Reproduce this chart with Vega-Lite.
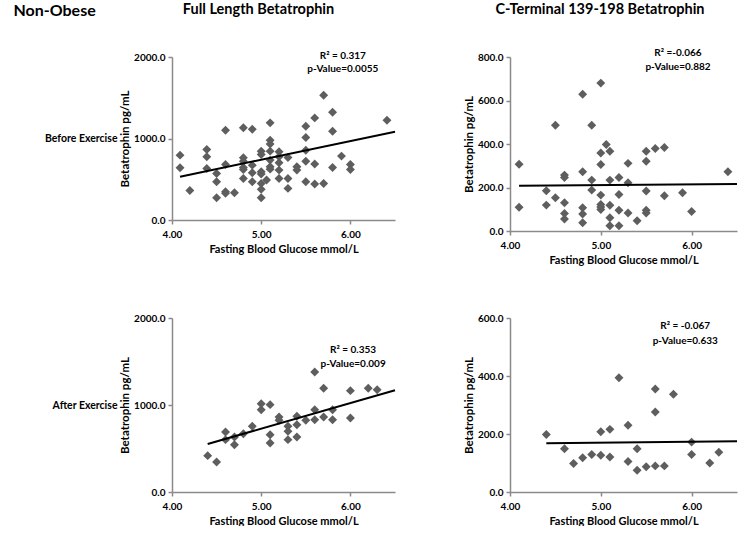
{
  "$schema": "https://vega.github.io/schema/vega-lite/v6.json",
  "background": "white",
  "padding": {"left": 13, "top": 1, "right": 0, "bottom": 0},
  "config": {
    "view": {"stroke": null},
    "font": "Lato",
    "axis": {
      "grid": false,
      "domainColor": "#8a8a8a",
      "domainWidth": 1.5,
      "tickColor": "#8a8a8a",
      "tickWidth": 1.5,
      "tickSize": 4,
      "labelFont": "Lato",
      "labelFontSize": 10,
      "labelFontWeight": "bold",
      "labelColor": "#000000",
      "labelFlush": false,
      "titleFont": "Lato",
      "titleFontSize": 11,
      "titleFontWeight": "bold",
      "titleColor": "#000000"
    },
    "axisX": {"labelPadding": 5, "titlePadding": 4},
    "axisY": {"labelPadding": 3, "titlePadding": 3, "titleFontSize": 11.5},
    "title": {"font": "Lato", "fontSize": 14.5, "fontWeight": "bold", "color": "#000000"}
  },
  "title": {"text": "Non-Obese", "anchor": "start", "fontSize": 16, "dx": -31, "offset": -17},
  "datasets": {
    "points": [
      {"panel": "full_before", "glucose": 4.09, "betatrophin": 796},
      {"panel": "full_before", "glucose": 4.09, "betatrophin": 641},
      {"panel": "full_before", "glucose": 4.2, "betatrophin": 363},
      {"panel": "full_before", "glucose": 4.39, "betatrophin": 865},
      {"panel": "full_before", "glucose": 4.39, "betatrophin": 776},
      {"panel": "full_before", "glucose": 4.39, "betatrophin": 633},
      {"panel": "full_before", "glucose": 4.5, "betatrophin": 571},
      {"panel": "full_before", "glucose": 4.5, "betatrophin": 469},
      {"panel": "full_before", "glucose": 4.5, "betatrophin": 273},
      {"panel": "full_before", "glucose": 4.6, "betatrophin": 1102},
      {"panel": "full_before", "glucose": 4.6, "betatrophin": 682},
      {"panel": "full_before", "glucose": 4.6, "betatrophin": 347},
      {"panel": "full_before", "glucose": 4.6, "betatrophin": 327},
      {"panel": "full_before", "glucose": 4.7, "betatrophin": 335},
      {"panel": "full_before", "glucose": 4.8, "betatrophin": 1131},
      {"panel": "full_before", "glucose": 4.8, "betatrophin": 763},
      {"panel": "full_before", "glucose": 4.8, "betatrophin": 722},
      {"panel": "full_before", "glucose": 4.8, "betatrophin": 645},
      {"panel": "full_before", "glucose": 4.8, "betatrophin": 620},
      {"panel": "full_before", "glucose": 4.8, "betatrophin": 510},
      {"panel": "full_before", "glucose": 4.9, "betatrophin": 1114},
      {"panel": "full_before", "glucose": 4.9, "betatrophin": 673},
      {"panel": "full_before", "glucose": 4.9, "betatrophin": 580},
      {"panel": "full_before", "glucose": 4.9, "betatrophin": 469},
      {"panel": "full_before", "glucose": 5.0, "betatrophin": 845},
      {"panel": "full_before", "glucose": 5.0, "betatrophin": 804},
      {"panel": "full_before", "glucose": 5.0, "betatrophin": 592},
      {"panel": "full_before", "glucose": 5.0, "betatrophin": 563},
      {"panel": "full_before", "glucose": 5.0, "betatrophin": 449},
      {"panel": "full_before", "glucose": 5.0, "betatrophin": 376},
      {"panel": "full_before", "glucose": 5.0, "betatrophin": 273},
      {"panel": "full_before", "glucose": 5.06, "betatrophin": 490},
      {"panel": "full_before", "glucose": 5.1, "betatrophin": 1192},
      {"panel": "full_before", "glucose": 5.1, "betatrophin": 980},
      {"panel": "full_before", "glucose": 5.1, "betatrophin": 931},
      {"panel": "full_before", "glucose": 5.1, "betatrophin": 845},
      {"panel": "full_before", "glucose": 5.1, "betatrophin": 735},
      {"panel": "full_before", "glucose": 5.1, "betatrophin": 653},
      {"panel": "full_before", "glucose": 5.1, "betatrophin": 624},
      {"panel": "full_before", "glucose": 5.2, "betatrophin": 837},
      {"panel": "full_before", "glucose": 5.2, "betatrophin": 776},
      {"panel": "full_before", "glucose": 5.2, "betatrophin": 702},
      {"panel": "full_before", "glucose": 5.2, "betatrophin": 612},
      {"panel": "full_before", "glucose": 5.2, "betatrophin": 510},
      {"panel": "full_before", "glucose": 5.3, "betatrophin": 767},
      {"panel": "full_before", "glucose": 5.3, "betatrophin": 510},
      {"panel": "full_before", "glucose": 5.3, "betatrophin": 388},
      {"panel": "full_before", "glucose": 5.4, "betatrophin": 653},
      {"panel": "full_before", "glucose": 5.4, "betatrophin": 612},
      {"panel": "full_before", "glucose": 5.5, "betatrophin": 1151},
      {"panel": "full_before", "glucose": 5.5, "betatrophin": 1012},
      {"panel": "full_before", "glucose": 5.5, "betatrophin": 857},
      {"panel": "full_before", "glucose": 5.5, "betatrophin": 722},
      {"panel": "full_before", "glucose": 5.5, "betatrophin": 469},
      {"panel": "full_before", "glucose": 5.6, "betatrophin": 1253},
      {"panel": "full_before", "glucose": 5.6, "betatrophin": 686},
      {"panel": "full_before", "glucose": 5.6, "betatrophin": 441},
      {"panel": "full_before", "glucose": 5.7, "betatrophin": 1531},
      {"panel": "full_before", "glucose": 5.7, "betatrophin": 449},
      {"panel": "full_before", "glucose": 5.8, "betatrophin": 1322},
      {"panel": "full_before", "glucose": 5.8, "betatrophin": 1090},
      {"panel": "full_before", "glucose": 5.8, "betatrophin": 645},
      {"panel": "full_before", "glucose": 5.9, "betatrophin": 784},
      {"panel": "full_before", "glucose": 6.0, "betatrophin": 682},
      {"panel": "full_before", "glucose": 6.0, "betatrophin": 620},
      {"panel": "full_before", "glucose": 6.41, "betatrophin": 1224},

      {"panel": "cterm_before", "glucose": 4.1, "betatrophin": 307},
      {"panel": "cterm_before", "glucose": 4.1, "betatrophin": 109},
      {"panel": "cterm_before", "glucose": 4.4, "betatrophin": 185},
      {"panel": "cterm_before", "glucose": 4.4, "betatrophin": 119},
      {"panel": "cterm_before", "glucose": 4.5, "betatrophin": 486},
      {"panel": "cterm_before", "glucose": 4.5, "betatrophin": 153},
      {"panel": "cterm_before", "glucose": 4.6, "betatrophin": 257},
      {"panel": "cterm_before", "glucose": 4.6, "betatrophin": 246},
      {"panel": "cterm_before", "glucose": 4.6, "betatrophin": 130},
      {"panel": "cterm_before", "glucose": 4.6, "betatrophin": 81},
      {"panel": "cterm_before", "glucose": 4.6, "betatrophin": 55},
      {"panel": "cterm_before", "glucose": 4.8, "betatrophin": 629},
      {"panel": "cterm_before", "glucose": 4.8, "betatrophin": 272},
      {"panel": "cterm_before", "glucose": 4.8, "betatrophin": 107},
      {"panel": "cterm_before", "glucose": 4.8, "betatrophin": 78},
      {"panel": "cterm_before", "glucose": 4.8, "betatrophin": 38},
      {"panel": "cterm_before", "glucose": 4.9, "betatrophin": 486},
      {"panel": "cterm_before", "glucose": 4.9, "betatrophin": 234},
      {"panel": "cterm_before", "glucose": 4.9, "betatrophin": 188},
      {"panel": "cterm_before", "glucose": 5.0, "betatrophin": 680},
      {"panel": "cterm_before", "glucose": 5.0, "betatrophin": 359},
      {"panel": "cterm_before", "glucose": 5.0, "betatrophin": 306},
      {"panel": "cterm_before", "glucose": 5.0, "betatrophin": 165},
      {"panel": "cterm_before", "glucose": 5.0, "betatrophin": 122},
      {"panel": "cterm_before", "glucose": 5.0, "betatrophin": 110},
      {"panel": "cterm_before", "glucose": 5.0, "betatrophin": 99},
      {"panel": "cterm_before", "glucose": 5.06, "betatrophin": 398},
      {"panel": "cterm_before", "glucose": 5.1, "betatrophin": 367},
      {"panel": "cterm_before", "glucose": 5.1, "betatrophin": 234},
      {"panel": "cterm_before", "glucose": 5.1, "betatrophin": 118},
      {"panel": "cterm_before", "glucose": 5.1, "betatrophin": 61},
      {"panel": "cterm_before", "glucose": 5.1, "betatrophin": 24},
      {"panel": "cterm_before", "glucose": 5.2, "betatrophin": 246},
      {"panel": "cterm_before", "glucose": 5.2, "betatrophin": 168},
      {"panel": "cterm_before", "glucose": 5.2, "betatrophin": 95},
      {"panel": "cterm_before", "glucose": 5.2, "betatrophin": 24},
      {"panel": "cterm_before", "glucose": 5.3, "betatrophin": 311},
      {"panel": "cterm_before", "glucose": 5.3, "betatrophin": 222},
      {"panel": "cterm_before", "glucose": 5.3, "betatrophin": 83},
      {"panel": "cterm_before", "glucose": 5.4, "betatrophin": 47},
      {"panel": "cterm_before", "glucose": 5.5, "betatrophin": 367},
      {"panel": "cterm_before", "glucose": 5.5, "betatrophin": 321},
      {"panel": "cterm_before", "glucose": 5.5, "betatrophin": 184},
      {"panel": "cterm_before", "glucose": 5.5, "betatrophin": 95},
      {"panel": "cterm_before", "glucose": 5.5, "betatrophin": 83},
      {"panel": "cterm_before", "glucose": 5.6, "betatrophin": 379},
      {"panel": "cterm_before", "glucose": 5.7, "betatrophin": 384},
      {"panel": "cterm_before", "glucose": 5.7, "betatrophin": 162},
      {"panel": "cterm_before", "glucose": 5.9, "betatrophin": 176},
      {"panel": "cterm_before", "glucose": 6.0, "betatrophin": 90},
      {"panel": "cterm_before", "glucose": 6.4, "betatrophin": 272},

      {"panel": "full_after", "glucose": 4.4, "betatrophin": 418},
      {"panel": "full_after", "glucose": 4.5, "betatrophin": 345},
      {"panel": "full_after", "glucose": 4.6, "betatrophin": 690},
      {"panel": "full_after", "glucose": 4.6, "betatrophin": 602},
      {"panel": "full_after", "glucose": 4.7, "betatrophin": 632},
      {"panel": "full_after", "glucose": 4.7, "betatrophin": 544},
      {"panel": "full_after", "glucose": 4.8, "betatrophin": 670},
      {"panel": "full_after", "glucose": 4.9, "betatrophin": 755},
      {"panel": "full_after", "glucose": 5.0, "betatrophin": 1015},
      {"panel": "full_after", "glucose": 5.0, "betatrophin": 946},
      {"panel": "full_after", "glucose": 5.1, "betatrophin": 1004},
      {"panel": "full_after", "glucose": 5.1, "betatrophin": 659},
      {"panel": "full_after", "glucose": 5.1, "betatrophin": 563},
      {"panel": "full_after", "glucose": 5.2, "betatrophin": 862},
      {"panel": "full_after", "glucose": 5.2, "betatrophin": 824},
      {"panel": "full_after", "glucose": 5.3, "betatrophin": 755},
      {"panel": "full_after", "glucose": 5.3, "betatrophin": 697},
      {"panel": "full_after", "glucose": 5.3, "betatrophin": 602},
      {"panel": "full_after", "glucose": 5.4, "betatrophin": 870},
      {"panel": "full_after", "glucose": 5.4, "betatrophin": 774},
      {"panel": "full_after", "glucose": 5.4, "betatrophin": 632},
      {"panel": "full_after", "glucose": 5.5, "betatrophin": 824},
      {"panel": "full_after", "glucose": 5.6, "betatrophin": 1379},
      {"panel": "full_after", "glucose": 5.6, "betatrophin": 946},
      {"panel": "full_after", "glucose": 5.6, "betatrophin": 831},
      {"panel": "full_after", "glucose": 5.7, "betatrophin": 1192},
      {"panel": "full_after", "glucose": 5.7, "betatrophin": 862},
      {"panel": "full_after", "glucose": 5.8, "betatrophin": 946},
      {"panel": "full_after", "glucose": 5.8, "betatrophin": 831},
      {"panel": "full_after", "glucose": 6.0, "betatrophin": 1165},
      {"panel": "full_after", "glucose": 6.0, "betatrophin": 851},
      {"panel": "full_after", "glucose": 6.2, "betatrophin": 1192},
      {"panel": "full_after", "glucose": 6.3, "betatrophin": 1176},

      {"panel": "cterm_after", "glucose": 4.4, "betatrophin": 198},
      {"panel": "cterm_after", "glucose": 4.6, "betatrophin": 149},
      {"panel": "cterm_after", "glucose": 4.7, "betatrophin": 98},
      {"panel": "cterm_after", "glucose": 4.8, "betatrophin": 118},
      {"panel": "cterm_after", "glucose": 4.9, "betatrophin": 129},
      {"panel": "cterm_after", "glucose": 5.0, "betatrophin": 208},
      {"panel": "cterm_after", "glucose": 5.0, "betatrophin": 127},
      {"panel": "cterm_after", "glucose": 5.1, "betatrophin": 216},
      {"panel": "cterm_after", "glucose": 5.1, "betatrophin": 121},
      {"panel": "cterm_after", "glucose": 5.2, "betatrophin": 394},
      {"panel": "cterm_after", "glucose": 5.3, "betatrophin": 230},
      {"panel": "cterm_after", "glucose": 5.3, "betatrophin": 105},
      {"panel": "cterm_after", "glucose": 5.4, "betatrophin": 149},
      {"panel": "cterm_after", "glucose": 5.4, "betatrophin": 75},
      {"panel": "cterm_after", "glucose": 5.5, "betatrophin": 87},
      {"panel": "cterm_after", "glucose": 5.6, "betatrophin": 355},
      {"panel": "cterm_after", "glucose": 5.6, "betatrophin": 276},
      {"panel": "cterm_after", "glucose": 5.6, "betatrophin": 90},
      {"panel": "cterm_after", "glucose": 5.7, "betatrophin": 90},
      {"panel": "cterm_after", "glucose": 5.8, "betatrophin": 337},
      {"panel": "cterm_after", "glucose": 6.0, "betatrophin": 172},
      {"panel": "cterm_after", "glucose": 6.0, "betatrophin": 129},
      {"panel": "cterm_after", "glucose": 6.2, "betatrophin": 100},
      {"panel": "cterm_after", "glucose": 6.3, "betatrophin": 137}
    ],
    "fits": [
      {"panel": "full_before", "glucose": 4.09, "betatrophin": 531},
      {"panel": "full_before", "glucose": 6.5, "betatrophin": 1082},
      {"panel": "cterm_before", "glucose": 4.1, "betatrophin": 208},
      {"panel": "cterm_before", "glucose": 6.5, "betatrophin": 216},
      {"panel": "full_after", "glucose": 4.4, "betatrophin": 552},
      {"panel": "full_after", "glucose": 6.5, "betatrophin": 1169},
      {"panel": "cterm_after", "glucose": 4.4, "betatrophin": 168},
      {"panel": "cterm_after", "glucose": 6.5, "betatrophin": 175}
    ],
    "stats": [
      {"panel": "full_before", "glucose": 5.915, "betatrophin": 2018, "label": "R² = 0.317"},
      {"panel": "full_before", "glucose": 5.915, "betatrophin": 1847, "label": "p-Value=0.0055"},
      {"panel": "cterm_before", "glucose": 5.85, "betatrophin": 817, "label": "R² =-0.066"},
      {"panel": "cterm_before", "glucose": 5.85, "betatrophin": 753, "label": "p-Value=0.882"},
      {"panel": "full_after", "glucose": 6.03, "betatrophin": 1636, "label": "R² = 0.353"},
      {"panel": "full_after", "glucose": 6.03, "betatrophin": 1475, "label": "p-Value=0.009"},
      {"panel": "cterm_after", "glucose": 5.93, "betatrophin": 573, "label": "R² = -0.067"},
      {"panel": "cterm_after", "glucose": 5.93, "betatrophin": 521, "label": "p-Value=0.633"}
    ]
  },
  "spacing": 48,
  "vconcat": [
    {
      "spacing": 64,
      "hconcat": [
        {
          "width": 223,
          "height": 163,
          "title": {"text": "Full Length Betatrophin", "frame": "group", "dx": -25, "offset": 33},
          "layer": [
            {
              "layer": [
                {
                  "data": {"name": "points"},
                  "transform": [{"filter": "datum.panel === 'full_before'"}],
                  "mark": {"type": "point", "shape": "diamond", "filled": true, "size": 80, "color": "#5e5e5e", "opacity": 1},
                  "encoding": {
                    "x": {"field": "glucose", "type": "quantitative", "scale": {"domain": [4, 6.5], "nice": false, "zero": false}, "axis": {"values": [4, 5, 6], "format": ".2f", "title": "Fasting Blood Glucose mmol/L"}},
                    "y": {"field": "betatrophin", "type": "quantitative", "scale": {"domain": [0, 2000], "nice": false}, "axis": {"values": [0, 1000, 2000], "format": ".1f", "title": "Betatrophin pg/mL"}}
                  }
                },
                {
                  "data": {"name": "fits"},
                  "transform": [{"filter": "datum.panel === 'full_before'"}],
                  "mark": {"type": "line", "color": "#000000", "strokeWidth": 2},
                  "encoding": {
                    "x": {"field": "glucose", "type": "quantitative", "scale": {"domain": [4, 6.5], "nice": false, "zero": false}},
                    "y": {"field": "betatrophin", "type": "quantitative", "scale": {"domain": [0, 2000], "nice": false}}
                  }
                },
                {
                  "data": {"name": "stats"},
                  "transform": [{"filter": "datum.panel === 'full_before'"}],
                  "mark": {"type": "text", "font": "Lato", "fontSize": 10, "fontWeight": "bold", "color": "#000000", "align": "center", "baseline": "middle"},
                  "encoding": {
                    "x": {"field": "glucose", "type": "quantitative", "scale": {"domain": [4, 6.5], "nice": false, "zero": false}},
                    "y": {"field": "betatrophin", "type": "quantitative", "scale": {"domain": [0, 2000], "nice": false}},
                    "text": {"field": "label", "type": "nominal"}
                  }
                }
              ]
            },
            {
              "data": {"name": "stats"},
              "transform": [{"filter": "datum.panel === 'full_before'"}],
              "mark": {"type": "point", "opacity": 0},
              "encoding": {
                "y": {"field": "label", "type": "nominal", "axis": {"orient": "left", "title": "Before Exercise", "labels": false, "ticks": false, "domain": false, "titleAngle": 0, "titleAlign": "right", "titleBaseline": "middle", "titlePadding": 55, "titleFontSize": 10.5, "titleFontWeight": "bold"}}
              }
            }
          ],
          "resolve": {"scale": {"y": "independent"}, "axis": {"y": "independent"}}
        },
        {
          "width": 227,
          "height": 174,
          "title": {"text": "C-Terminal 139-198 Betatrophin", "frame": "group", "dx": -23.5, "offset": 31},
          "layer": [
            {
              "data": {"name": "points"},
              "transform": [{"filter": "datum.panel === 'cterm_before'"}],
              "mark": {"type": "point", "shape": "diamond", "filled": true, "size": 80, "color": "#5e5e5e", "opacity": 1},
              "encoding": {
                "x": {"field": "glucose", "type": "quantitative", "scale": {"domain": [4, 6.5], "nice": false, "zero": false}, "axis": {"values": [4, 5, 6], "format": ".2f", "title": "Fasting Blood Glucose mmol/L"}},
                "y": {"field": "betatrophin", "type": "quantitative", "scale": {"domain": [0, 800], "nice": false}, "axis": {"values": [0, 200, 400, 600, 800], "format": ".1f", "title": "Betatrophin pg/mL"}}
              }
            },
            {
              "data": {"name": "fits"},
              "transform": [{"filter": "datum.panel === 'cterm_before'"}],
              "mark": {"type": "line", "color": "#000000", "strokeWidth": 2},
              "encoding": {
                "x": {"field": "glucose", "type": "quantitative", "scale": {"domain": [4, 6.5], "nice": false, "zero": false}},
                "y": {"field": "betatrophin", "type": "quantitative", "scale": {"domain": [0, 800], "nice": false}}
              }
            },
            {
              "data": {"name": "stats"},
              "transform": [{"filter": "datum.panel === 'cterm_before'"}],
              "mark": {"type": "text", "font": "Lato", "fontSize": 10, "fontWeight": "bold", "color": "#000000", "align": "center", "baseline": "middle"},
              "encoding": {
                "x": {"field": "glucose", "type": "quantitative", "scale": {"domain": [4, 6.5], "nice": false, "zero": false}},
                "y": {"field": "betatrophin", "type": "quantitative", "scale": {"domain": [0, 800], "nice": false}},
                "text": {"field": "label", "type": "nominal"}
              }
            }
          ]
        }
      ]
    },
    {
      "spacing": 64,
      "hconcat": [
        {
          "width": 223,
          "height": 174,
          "layer": [
            {
              "layer": [
                {
                  "data": {"name": "points"},
                  "transform": [{"filter": "datum.panel === 'full_after'"}],
                  "mark": {"type": "point", "shape": "diamond", "filled": true, "size": 80, "color": "#5e5e5e", "opacity": 1},
                  "encoding": {
                    "x": {"field": "glucose", "type": "quantitative", "scale": {"domain": [4, 6.5], "nice": false, "zero": false}, "axis": {"values": [4, 5, 6], "format": ".2f", "title": "Fasting Blood Glucose mmol/L"}},
                    "y": {"field": "betatrophin", "type": "quantitative", "scale": {"domain": [0, 2000], "nice": false}, "axis": {"values": [0, 1000, 2000], "format": ".1f", "title": "Betatrophin pg/mL"}}
                  }
                },
                {
                  "data": {"name": "fits"},
                  "transform": [{"filter": "datum.panel === 'full_after'"}],
                  "mark": {"type": "line", "color": "#000000", "strokeWidth": 2},
                  "encoding": {
                    "x": {"field": "glucose", "type": "quantitative", "scale": {"domain": [4, 6.5], "nice": false, "zero": false}},
                    "y": {"field": "betatrophin", "type": "quantitative", "scale": {"domain": [0, 2000], "nice": false}}
                  }
                },
                {
                  "data": {"name": "stats"},
                  "transform": [{"filter": "datum.panel === 'full_after'"}],
                  "mark": {"type": "text", "font": "Lato", "fontSize": 10, "fontWeight": "bold", "color": "#000000", "align": "center", "baseline": "middle"},
                  "encoding": {
                    "x": {"field": "glucose", "type": "quantitative", "scale": {"domain": [4, 6.5], "nice": false, "zero": false}},
                    "y": {"field": "betatrophin", "type": "quantitative", "scale": {"domain": [0, 2000], "nice": false}},
                    "text": {"field": "label", "type": "nominal"}
                  }
                }
              ]
            },
            {
              "data": {"name": "stats"},
              "transform": [{"filter": "datum.panel === 'full_after'"}],
              "mark": {"type": "point", "opacity": 0},
              "encoding": {
                "y": {"field": "label", "type": "nominal", "axis": {"orient": "left", "title": "After Exercise", "labels": false, "ticks": false, "domain": false, "titleAngle": 0, "titleAlign": "right", "titleBaseline": "middle", "titlePadding": 55, "titleFontSize": 10.5, "titleFontWeight": "bold"}}
              }
            }
          ],
          "resolve": {"scale": {"y": "independent"}, "axis": {"y": "independent"}}
        },
        {
          "width": 227,
          "height": 174,
          "layer": [
            {
              "data": {"name": "points"},
              "transform": [{"filter": "datum.panel === 'cterm_after'"}],
              "mark": {"type": "point", "shape": "diamond", "filled": true, "size": 80, "color": "#5e5e5e", "opacity": 1},
              "encoding": {
                "x": {"field": "glucose", "type": "quantitative", "scale": {"domain": [4, 6.5], "nice": false, "zero": false}, "axis": {"values": [4, 5, 6], "format": ".2f", "title": "Fasting Blood Glucose mmol/L"}},
                "y": {"field": "betatrophin", "type": "quantitative", "scale": {"domain": [0, 600], "nice": false}, "axis": {"values": [0, 200, 400, 600], "format": ".1f", "title": "Betatrophin pg/mL"}}
              }
            },
            {
              "data": {"name": "fits"},
              "transform": [{"filter": "datum.panel === 'cterm_after'"}],
              "mark": {"type": "line", "color": "#000000", "strokeWidth": 2},
              "encoding": {
                "x": {"field": "glucose", "type": "quantitative", "scale": {"domain": [4, 6.5], "nice": false, "zero": false}},
                "y": {"field": "betatrophin", "type": "quantitative", "scale": {"domain": [0, 600], "nice": false}}
              }
            },
            {
              "data": {"name": "stats"},
              "transform": [{"filter": "datum.panel === 'cterm_after'"}],
              "mark": {"type": "text", "font": "Lato", "fontSize": 10, "fontWeight": "bold", "color": "#000000", "align": "center", "baseline": "middle"},
              "encoding": {
                "x": {"field": "glucose", "type": "quantitative", "scale": {"domain": [4, 6.5], "nice": false, "zero": false}},
                "y": {"field": "betatrophin", "type": "quantitative", "scale": {"domain": [0, 600], "nice": false}},
                "text": {"field": "label", "type": "nominal"}
              }
            }
          ]
        }
      ]
    }
  ]
}
